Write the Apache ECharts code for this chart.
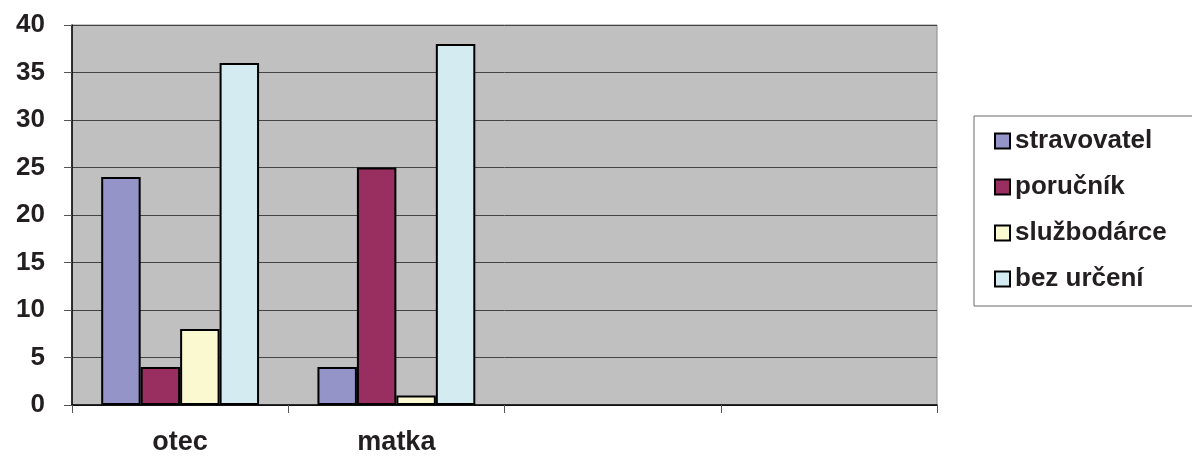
<!DOCTYPE html>
<html>
<head>
<meta charset="utf-8">
<script src="https://cdn.jsdelivr.net/npm/echarts@6/dist/echarts.min.js"></script>
<style>html,body{margin:0;padding:0;background:#fff}#c{width:1192px;height:461px}</style>
</head>
<body>
<div id="c"></div>
<script>
const categories = ['otec', 'matka', '', ''];
const seriesNames = ['stravovatel', 'poručník', 'službodárce', 'bez určení'];
const stravovatel = [24, 4, null, null];
const porucnik = [4, 25, null, null];
const sluzbodarce = [8, 1, null, null];
const bezUrceni = [36, 38, null, null];
const colors = ['#9594c9', '#982f60', '#fbf9cf', '#d4ebf2'];

const chart = echarts.init(document.getElementById('c'));
const font = 'Liberation Sans, Arial, sans-serif';
const values = [stravovatel, porucnik, sluzbodarce, bezUrceni];
chart.setOption({
  animation: false,
  textStyle: { fontFamily: font },
  grid: { left: 72, right: 255, top: 25, bottom: 56, show: true, backgroundColor: '#c0c0c0', borderColor: '#8a8a8a', borderWidth: 1 },
  legend: {
    orient: 'vertical', left: 974, top: 116,
    padding: [11, 40, 13, 20], itemGap: 18, itemWidth: 15, itemHeight: 15,
    borderColor: '#6b6b6b', borderWidth: 1,
    textStyle: { fontSize: 26, lineHeight: 28, fontWeight: 'bold', color: '#231f20', fontFamily: font },
    data: seriesNames.map(n => ({ name: n, icon: 'rect' }))
  },
  xAxis: {
    type: 'category', data: categories,
    axisLine: { lineStyle: { color: '#000', width: 1.5 } },
    axisTick: { show: true, length: 8, lineStyle: { color: '#555' } },
    axisLabel: { fontSize: 27, fontWeight: 'bold', color: '#231f20', margin: 24, fontFamily: font },
    splitLine: { show: false }
  },
  yAxis: {
    type: 'value', min: 0, max: 40, interval: 5,
    axisLine: { show: true, lineStyle: { color: '#000', width: 1.5 } },
    axisTick: { show: true, length: 8, lineStyle: { color: '#555' } },
    axisLabel: { fontSize: 26, fontWeight: 'bold', color: '#231f20', margin: 27, fontFamily: font },
    splitLine: { show: true, lineStyle: { color: '#444', width: 1 } }
  },
  series: seriesNames.map((n, i) => ({
    name: n, type: 'bar', data: values[i],
    barGap: '0%', barCategoryGap: '27%',
    itemStyle: { color: colors[i], borderColor: '#000', borderWidth: 2 }
  }))
});
</script>
</body>
</html>
